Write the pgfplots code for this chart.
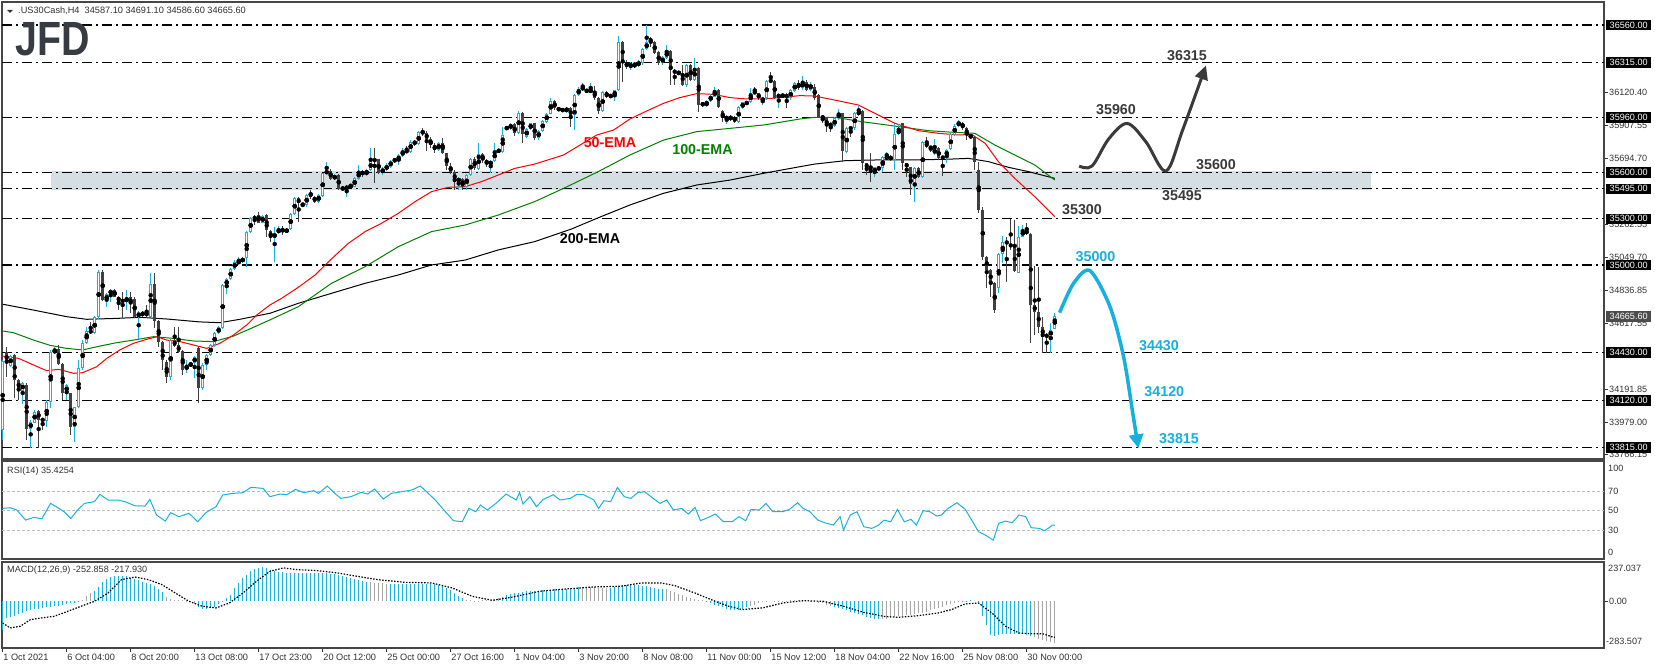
\documentclass[border=0pt]{standalone}
\usepackage{pgfplots}
\pgfplotsset{compat=1.18}
\usepackage{pgfplotstable}
\usepackage{graphicx}
\usepackage{fontspec}
\setmainfont{Liberation Sans}
\usetikzlibrary{arrows.meta}
\definecolor{cyanc}{RGB}{24,178,222}
\definecolor{darkc}{RGB}{64,64,64}
\definecolor{emared}{RGB}{255,0,0}
\definecolor{emagreen}{RGB}{0,128,0}
\definecolor{bandc}{RGB}{213,223,227}
\definecolor{framec}{RGB}{70,70,70}
\definecolor{labc}{RGB}{50,50,50}
\definecolor{annc}{RGB}{58,58,58}
\definecolor{annblue}{RGB}{20,176,222}
\definecolor{greybar}{RGB}{165,165,165}
\definecolor{levc}{RGB}{190,190,190}
\definecolor{logoc}{RGB}{55,60,66}

\pgfplotstableread{
x o h l c
0 33928 34385 33862 34378
2 34346 34415 34340 34408
5 34183 34240 34096 34231
7 33932 33990 33808 33982
8 33975 34055 33970 34047
11 33988 34120 33945 34112
12 34112 34445 34068 34437
13 34426 34470 34420 34452
16 34170 34225 34122 34220
18 33949 34080 33852 34075
19 34075 34382 34070 34328
20 34328 34512 34320 34491
21 34491 34599 34485 34571
23 34556 34670 34550 34660
24 34660 34965 34650 34957
26 34766 34820 34729 34811
27 34811 34845 34762 34837
31 34762 34837 34707 34790
34 34660 34700 34517 34692
37 34664 34946 34660 34874
42 34274 34520 34252 34512
46 34322 34382 34296 34344
47 34344 34370 34340 34361
48 34361 34410 34263 34404
50 34198 34360 34190 34350
51 34350 34420 34317 34415
52 34415 34485 34410 34478
53 34478 34565 34470 34556
54 34556 34605 34550 34595
55 34588 34875 34585 34870
56 34864 34915 34811 34909
57 34909 34980 34900 34974
58 34974 35030 34965 35022
59 35011 35050 35005 35026
60 35022 35050 35015 35043
61 35043 35220 34989 35212
62 35212 35310 35205 35303
65 35275 35325 35270 35318
68 35173 35250 35022 35210
69 35210 35253 35200 35232
71 35215 35240 35205 35232
72 35232 35340 35225 35331
73 35331 35440 35325 35433
76 35390 35460 35380 35455
79 35412 35460 35405 35455
80 35448 35600 35440 35596
81 35596 35672 35590 35611
83 35557 35590 35550 35585
86 35492 35520 35440 35513
87 35510 35525 35505 35515
88 35509 35570 35505 35563
89 35557 35650 35550 35611
91 35585 35625 35580 35617
92 35617 35758 35610 35676
95 35596 35640 35585 35628
96 35628 35660 35610 35639
97 35639 35685 35630 35676
99 35676 35720 35650 35715
100 35711 35760 35705 35741
102 35737 35810 35730 35802
104 35784 35870 35780 35862
109 35748 35800 35740 35791
114 35542 35570 35490 35563
116 35509 35590 35490 35585
117 35585 35695 35580 35687
119 35624 35790 35615 35719
122 35650 35685 35600 35676
123 35676 35795 35670 35741
125 35737 35900 35730 35845
127 35888 35920 35880 35914
129 35860 36000 35850 35990
131 35834 35890 35825 35882
132 35882 35925 35875 35921
134 35823 35880 35815 35871
135 35871 35945 35865 35936
136 35930 35990 35925 35984
137 35984 36083 35980 36066
141 36001 36025 35990 36018
143 35975 36110 35877 36105
144 36105 36160 36100 36144
145 36144 36181 36140 36153
147 36127 36181 36120 36137
150 36003 36130 35995 36122
153 36096 36140 36066 36135
154 36135 36490 36130 36447
157 36285 36320 36267 36311
159 36296 36330 36290 36322
160 36311 36410 36300 36404
161 36404 36560 36395 36447
165 36311 36360 36300 36354
166 36348 36430 36340 36391
169 36246 36260 36240 36250
171 36170 36305 36160 36300
173 36202 36343 36195 36278
176 36036 36070 36025 36066
177 36066 36110 36060 36101
178 36094 36159 36090 36135
181 35942 35975 35914 35968
184 35932 36035 35925 36029
185 36020 36062 36015 36057
187 36057 36153 36050 36116
190 36068 36090 36040 36083
191 36083 36200 36075 36196
194 36088 36115 36023 36109
197 36083 36145 36075 36137
198 36131 36190 36125 36181
200 36150 36230 36140 36190
202 36140 36190 36130 36175
208 35903 35960 35895 35953
209 35953 36012 35945 35986
211 35737 35895 35730 35888
213 35888 35995 35880 35986
214 35975 36040 35970 36003
218 35596 35640 35570 35635
220 35628 35710 35607 35704
221 35693 35737 35690 35704
223 35683 35914 35617 35849
224 35849 35914 35845 35884
228 35524 35635 35412 35628
230 35570 35805 35565 35797
233 35721 35817 35715 35758
236 35704 35755 35661 35748
237 35752 35855 35745 35849
238 35845 35915 35840 35906
239 35906 35942 35900 35927
242 35830 35850 35820 35845
249 34848 35075 34816 35069
250 35069 35188 35010 35152
254 34950 35253 34945 35184
255 35184 35260 35180 35228
262 34534 34620 34430 34580
263 34587 34691 34587 34666
}\bull

\pgfplotstableread{
x o h l c
1 34437 34469 34274 34361
3 34415 34420 34133 34252
4 34252 34260 34122 34188
6 34220 34230 33862 33932
9 34053 34060 33808 33992
10 33999 34005 33928 33988
14 34452 34480 34350 34354
15 34354 34360 34122 34170
17 34166 34170 33895 33949
22 34578 34632 34550 34556
25 34957 34967 34765 34772
28 34837 34842 34790 34794
29 34794 34800 34707 34762
30 34768 34827 34653 34766
32 34790 34827 34686 34746
33 34779 34790 34655 34660
35 34692 34700 34665 34675
36 34686 34740 34653 34675
38 34874 34946 34588 34636
39 34636 34640 34469 34502
40 34500 34505 34317 34382
41 34372 34380 34235 34274
43 34512 34599 34470 34474
44 34478 34599 34430 34437
45 34443 34450 34285 34317
49 34463 34470 34101 34198
63 35310 35325 35260 35303
64 35323 35344 35270 35275
66 35325 35330 35184 35228
67 35223 35230 35152 35173
70 35232 35255 35195 35220
74 35433 35440 35282 35401
75 35401 35405 35375 35386
77 35470 35490 35430 35444
78 35444 35450 35405 35412
82 35611 35625 35550 35557
84 35585 35590 35487 35492
85 35503 35510 35485 35492
90 35611 35620 35575 35585
93 35687 35758 35531 35676
94 35687 35690 35590 35596
98 35687 35695 35665 35676
101 35741 35775 35725 35737
103 35806 35815 35775 35784
105 35867 35888 35840 35856
106 35856 35870 35740 35819
107 35819 35830 35760 35780
108 35780 35795 35730 35748
110 35795 35823 35720 35726
111 35726 35730 35620 35643
112 35643 35660 35590 35607
113 35607 35620 35487 35542
115 35560 35565 35490 35509
118 35687 35700 35620 35630
120 35719 35725 35660 35683
121 35683 35690 35640 35656
124 35748 35755 35730 35737
126 35895 35900 35880 35884
128 35914 35920 35840 35856
130 35990 35995 35790 35849
133 35921 35925 35815 35823
138 36066 36070 36010 36018
139 36018 36025 36000 36008
140 36012 36020 35995 36001
142 36018 36025 35899 35964
146 36137 36145 36120 36127
148 36131 36166 36075 36083
149 36083 36090 35981 36003
151 36122 36130 36085 36094
152 36105 36110 36085 36094
155 36447 36455 36192 36322
156 36322 36330 36275 36285
158 36311 36315 36280 36296
162 36473 36484 36419 36447
163 36447 36455 36370 36376
164 36382 36390 36300 36311
167 36391 36395 36170 36267
168 36267 36275 36170 36246
170 36250 36300 36165 36170
172 36300 36305 36195 36202
174 36278 36285 35997 36040
175 36051 36060 36030 36040
179 36135 36144 36020 36029
180 36001 36005 35932 35953
182 35971 35975 35935 35942
183 35964 35970 35925 35932
186 36057 36065 36040 36050
188 36127 36159 36110 36116
189 36116 36120 36075 36083
192 36202 36257 36185 36192
193 36196 36200 36080 36088
195 36109 36115 36085 36094
196 36109 36115 36018 36083
199 36181 36200 36140 36150
201 36190 36200 36130 36140
203 36160 36175 36075 36083
204 36105 36110 35960 35964
205 35968 35975 35920 35953
206 35953 35960 35866 35903
207 35921 35925 35866 35903
210 35986 35990 35672 35741
212 35895 35900 35834 35884
215 36003 36010 35618 35661
216 35661 35665 35585 35628
217 35628 35726 35542 35596
219 35635 35640 35615 35622
222 35708 35715 35676 35683
225 35921 35925 35618 35661
226 35661 35665 35574 35635
227 35635 35640 35455 35524
229 35628 35635 35565 35570
231 35797 35834 35760 35769
232 35769 35775 35737 35758
234 35758 35765 35685 35693
235 35704 35710 35578 35693
240 35925 35930 35880 35888
241 35888 35895 35812 35845
243 35834 35840 35617 35672
244 35617 35672 35335 35358
245 35358 35380 35033 35054
246 35054 35060 34848 34967
247 34967 34975 34794 34880
248 34880 34890 34686 34707
251 35152 35185 34892 35141
252 35136 35297 35100 35119
253 35119 35292 34957 34960
256 35228 35270 35195 35201
257 35201 35210 34491 34740
258 34740 34994 34545 34697
259 34697 34990 34560 34600
260 34600 34665 34426 34534
261 34545 34560 34430 34534
}\bear

\tikzset{
  ann/.style={font=\fontsize{14.3}{16}\selectfont\bfseries, inner sep=0pt},
  pl/.style={font=\fontsize{9.1}{10}\selectfont, inner sep=0pt, text=labc},
  pbox/.style={fill=black, text=white, font=\fontsize{9.1}{10}\selectfont, inner xsep=3.5pt, inner ysep=0pt, minimum height=10.5pt, anchor=west, xshift=2pt},
}

\begin{document}
\begin{tikzpicture}[x=1pt,y=1pt]
\useasboundingbox (0,0) rectangle (1655,669);

% ---------------- main price panel ----------------
\begin{axis}[
  at={(2pt,210pt)}, anchor=south west, scale only axis,
  width=1602pt, height=457pt,
  xmin=-0.175, xmax=400.3, ymin=33739, ymax=36709.5,
  clip=false,
  axis line style={framec, line width=1.2pt},
  xtick=\empty,
  ytick={36120.40,35907.55,35694.70,35262.55,35049.70,34836.85,34617.55,34191.85,33979.00,33766.15},
  yticklabels={36120.40,35907.55,35694.70,35262.55,35049.70,34836.85,34617.55,34191.85,33979.00,33766.15},
  ytick pos=right, yticklabel pos=right, tick align=outside, major tick length=4pt,
  ytick style={labc, line width=0.8pt},
  yticklabel style={font=\fontsize{9.1}{10}\selectfont, text=labc, anchor=west, inner sep=0pt, xshift=1pt},
]
% support band
\fill[bandc] (axis cs:12.1,35488) rectangle (axis cs:342.1,35611);
% level lines
\pgfplotsinvokeforeach{36560,36315,35960,35600,35495,35300,35000,34430,34120,33815}{
  \addplot[black, line width=1.1pt, dash pattern=on 10pt off 4pt on 2pt off 4pt, forget plot] coordinates {(-0.175,#1) (400.3,#1)};
}
% EMA 200
\addplot[black, line width=1pt, forget plot] coordinates {
(0,34745) (7.7,34707) (16,34664) (21,34647) (28.5,34653) (34.3,34660) (41,34649) (49.3,34630) (54.3,34625) (59.3,34647) (66.8,34686)
(73.9,34751) (82.2,34816) (90.6,34881) (98.9,34935) (107.2,35000) (115.6,35032) (123.9,35098) (133,35152)
(142.2,35234) (148.5,35303) (156.8,35390) (165.2,35466) (173.5,35520) (181.8,35552) (190.2,35596) (199.3,35639)
(203,35656) (210.6,35678) (218.9,35683) (227.2,35683) (235.6,35687) (241.4,35693) (246.4,35672) (251.4,35635) (256.4,35607) (263,35563)};
% EMA 100
\addplot[emagreen, line width=1pt, forget plot] coordinates {
(0,34571) (2.7,34560) (7.7,34512) (11.8,34478) (16,34458) (20,34448) (24.3,34473) (28.5,34495) (32.7,34512) (37.7,34534) (42.7,34523) (47.7,34506) (52.7,34502) (57.7,34538) (62.7,34595) (66.8,34643)
(73.9,34729) (82.2,34881) (90.6,34989) (98.9,35119) (107.2,35217) (115.6,35260) (123.9,35325) (133,35412)
(140.2,35498) (148.5,35602) (156.8,35715) (165.2,35812) (173.5,35867) (181.8,35888) (190.2,35910) (199.3,35949)
(203,35960) (208,35960) (214.7,35932) (223,35903) (231.4,35873) (238,35862) (243,35856) (248,35780) (253,35715) (258,35650) (263,35552)};
% EMA 50
\addplot[emared, line width=1pt, forget plot] coordinates {
(0,34408) (4,34393) (7.7,34350) (11,34313) (14,34322) (17.7,34296) (20,34300) (23.5,34339) (26,34393) (29.3,34448) (32.7,34491) (36,34517) (38.5,34534) (41,34512) (44.3,34502) (47.7,34480) (51,34458) (54.3,34491) (57.7,34545) (61,34610) (63.5,34675) (66.8,34740)
(69.7,34783) (73.9,34855) (78.1,34935) (82.2,35040) (86.4,35141) (90.6,35217) (94.7,35271) (98.9,35336) (103.1,35412) (107.2,35477) (111.4,35505) (115.6,35509) (119.7,35542) (123.9,35585) (128,35628) (133,35656)
(140.2,35715) (148.5,35845) (152.7,35877) (156.8,35949) (161,36001) (165.2,36051) (169.3,36088) (173.5,36114) (177.7,36109) (181.8,36088) (186,36079) (190.2,36079) (194.3,36088) (199.3,36101)
(203,36098) (208,36072) (213.9,36040) (218,35986) (223,35921) (228.9,35873) (233.9,35856) (238.9,35845) (242.2,35849) (245.6,35791) (248.9,35672) (253,35563) (258,35444) (263,35314)};
% candles: wicks
\addplot[only marks, mark=none, forget plot,
  error bars/.cd, y dir=both, y explicit, error mark=none,
  error bar style={line width=1pt, draw=cyanc}]
  table[x=x, y expr={(\thisrow{h}+\thisrow{l})/2}, y error expr={(\thisrow{h}-\thisrow{l})/2}] {\bull};
\addplot[only marks, mark=none, forget plot,
  error bars/.cd, y dir=both, y explicit, error mark=none,
  error bar style={line width=1pt, draw=darkc}]
  table[x=x, y expr={(\thisrow{h}+\thisrow{l})/2}, y error expr={(\thisrow{h}-\thisrow{l})/2}] {\bear};
% bodies
\addplot[only marks, mark=none, forget plot,
  error bars/.cd, y dir=both, y explicit, error mark=none,
  error bar style={line width=3.2pt, draw=cyanc}]
  table[x=x, y expr={(\thisrow{o}+\thisrow{c})/2}, y error expr={max(abs(\thisrow{c}-\thisrow{o})/2,3.5)}] {\bull};
\addplot[only marks, mark=none, forget plot,
  error bars/.cd, y dir=both, y explicit, error mark=none,
  error bar style={line width=1.2pt, draw=white}]
  table[x=x, y expr={(\thisrow{o}+\thisrow{c})/2}, y error expr={max(abs(\thisrow{c}-\thisrow{o})/2-6.5,0)}] {\bull};
\addplot[only marks, mark=none, forget plot,
  error bars/.cd, y dir=both, y explicit, error mark=none,
  error bar style={line width=3.2pt, draw=darkc}]
  table[x=x, y expr={(\thisrow{o}+\thisrow{c})/2}, y error expr={max(abs(\thisrow{c}-\thisrow{o})/2,3.5)}] {\bear};
% scenario arrows
\addplot[annc, line width=3pt, smooth, tension=0.55, -{Triangle[length=14pt,width=13pt]}, forget plot] coordinates {
(269.1,35643) (272.3,35643) (276.5,35820) (281.1,35920) (285.8,35800) (290.8,35611) (295,35880) (300.8,36297)};
\addplot[annblue, line width=3.5pt, smooth, tension=0.5, -{Triangle[length=14pt,width=14pt]}, forget plot] coordinates {
(264.2,34690) (267.7,34881) (271.8,34963) (276.8,34729) (280.2,34404) (282.5,34036) (283.9,33808)};
% coordinates for boxed price labels
\coordinate (b1) at (axis cs:400.3,36560);
\coordinate (b2) at (axis cs:400.3,36315);
\coordinate (b3) at (axis cs:400.3,35960);
\coordinate (b4) at (axis cs:400.3,35600);
\coordinate (b5) at (axis cs:400.3,35495);
\coordinate (b6) at (axis cs:400.3,35300);
\coordinate (b7) at (axis cs:400.3,35000);
\coordinate (b8) at (axis cs:400.3,34665.6);
\coordinate (b9) at (axis cs:400.3,34430);
\coordinate (b10) at (axis cs:400.3,34120);
\coordinate (b11) at (axis cs:400.3,33815);
\end{axis}

% boxed labels on top of tick labels
\node[pbox] at (b1) {36560.00};
\node[pbox] at (b2) {36315.00};
\node[pbox] at (b3) {35960.00};
\node[pbox] at (b4) {35600.00};
\node[pbox] at (b5) {35495.00};
\node[pbox] at (b6) {35300.00};
\node[pbox] at (b7) {35000.00};
\node[pbox, fill=black!70] at (b8) {34665.60};
\node[pbox] at (b9) {34430.00};
\node[pbox] at (b10) {34120.00};
\node[pbox] at (b11) {33815.00};

% ---------------- RSI panel ----------------
\begin{axis}[
  at={(2pt,110pt)}, anchor=south west, scale only axis,
  width=1602pt, height=98pt,
  xmin=-0.175, xmax=400.3, ymin=0.6, ymax=101.1,
  axis line style={framec, line width=1.2pt},
  xtick=\empty, ytick=\empty,
]
\pgfplotsinvokeforeach{70,50,30}{
  \addplot[levc, line width=0.9pt, dash pattern=on 3pt off 2pt, forget plot] coordinates {(-0.175,#1) (400.3,#1)};
}
\addplot[cyanc, line width=1pt, forget plot] coordinates {
(0,52.5) (1.86,53.2) (3.54,50.8) (5.74,40.5) (7.76,43.3) (9.78,41.9) (11.98,57.6) (13.66,53.5) (15.35,49.1) (17.04,42.2) (18.72,50.8) (20.41,57.6) (22.94,59.4) (24.29,66.9) (26.32,61.1) (28.85,61.1) (30.53,59.4) (33.06,55.2) (35.59,54.9) (36.78,61.7) (38.46,45.7) (40.65,39.5) (42.0,48.1) (44.03,44.0) (46.56,47.4) (48.75,38.8) (50.78,48.1) (53.31,54.2) (54.99,66.2) (57.52,67.9) (60.05,68.6) (62.08,74.1) (65.11,73.0) (66.8,64.5) (69.33,67.2) (71.02,66.5) (73.21,72.0) (75.24,68.6) (77.77,70.6) (78.95,67.9) (81.14,75.4) (82.83,68.6) (84.51,62.8) (87.05,64.5) (89.57,68.9) (91.26,67.2) (92.95,72.4) (95.14,62.1) (97.17,67.9) (99.7,69.6) (102.23,71.3) (104.42,75.4) (105.94,69.6) (108.13,61.1) (110.66,49.1) (112.69,39.9) (114.88,38.8) (116.56,52.5) (118.25,49.1) (119.43,55.9) (121.12,50.8) (123.31,57.6) (125.84,67.2) (128.37,61.1) (129.22,68.9) (130.06,56.9) (131.75,64.5) (133.44,54.2) (135.12,61.7) (137.65,66.5) (139.34,61.1) (141.87,62.8) (143.56,66.9) (145.24,66.5) (147.77,61.1) (148.95,52.5) (150.3,60.4) (151.99,59.4) (153.68,74.1) (155.36,64.5) (157.05,62.8) (158.74,68.6) (160.43,69.6) (162.96,61.7) (164.31,57.6) (165.99,61.1) (167.68,50.8) (169.7,52.5) (171.39,46.7) (173.08,53.5) (174.43,39.9) (176.45,43.3) (178.14,46.7) (180.17,38.8) (182.36,38.8) (184.04,44.0) (185.73,39.9) (187.08,51.5) (189.1,50.8) (190.79,57.6) (192.48,49.1) (195.01,49.1) (196.7,51.5) (198.72,58.3) (200.07,52.5) (201.76,49.1) (203.78,40.5) (205.47,37.8) (207.66,35.4) (209.34,44.0) (210.19,30.3) (211.88,45.7) (213.56,49.1) (215.25,33.7) (217.27,32.0) (218.96,35.4) (220.31,40.5) (222.0,38.8) (223.68,51.5) (225.37,38.8) (227.06,41.2) (228.41,35.4) (230.09,50.1) (231.78,49.1) (233.47,44.6) (234.65,45.7) (236.33,52.5) (238.53,58.3) (240.55,51.8) (242.24,40.5) (243.93,28.6) (245.61,25.2) (247.64,20.0) (248.99,37.1) (250.67,39.5) (252.36,37.8) (254.05,45.7) (255.74,44.0) (257.09,32.7) (259.11,32.0) (260.46,29.6) (262.48,35.4) (263,35.4)};
\end{axis}

% ---------------- MACD panel ----------------
\begin{axis}[
  at={(2pt,21pt)}, anchor=south west, scale only axis,
  width=1602pt, height=86pt,
  xmin=-0.175, xmax=400.3, ymin=-283.507, ymax=237.037,
  axis line style={framec, line width=1.2pt},
  xtick={0,16,...,256},
  xticklabels={1 Oct 2021,6 Oct 04:00,8 Oct 20:00,13 Oct 08:00,17 Oct 23:00,20 Oct 12:00,25 Oct 00:00,27 Oct 16:00,1 Nov 04:00,3 Nov 20:00,8 Nov 08:00,11 Nov 00:00,15 Nov 12:00,18 Nov 04:00,22 Nov 16:00,25 Nov 08:00,30 Nov 00:00},
  xtick pos=bottom, tick align=outside, major tick length=4pt,
  xtick style={labc, line width=0.8pt},
  xticklabel style={font=\fontsize{9.2}{10}\selectfont, text=labc, anchor=north west, inner sep=0pt, xshift=0.5pt, yshift=-2pt},
  ytick={0}, yticklabels={0.00}, ytick pos=right, yticklabel pos=right,
  ytick style={labc, line width=0.8pt},
  yticklabel style={font=\fontsize{9.1}{10}\selectfont, text=labc, anchor=west, inner sep=0pt, xshift=1pt},
]
\addplot[ycomb, cyanc, line width=1pt, mark=none, forget plot] coordinates {
(0,-177) (1,-102) (2,-95) (3,-89) (4,-79) (5,-70) (6,-62) (7,-56) (8,-50) (9,-47) (10,-43) (11,-38) (12,-34) (13,-30) (14,-27) (15,-23) (16,-18) (17,-14) (18,-10) (19,-4)
(23,60) (24,85) (25,113) (26,133) (27,146) (28,154) (29,155) (30,155) (31,152) (32,143) (33,134) (34,126) (35,118) (36,110) (37,102) (38,92) (39,75) (40,57)
(49,-35) (50,-47) (51,-46) (52,-42) (53,-34) (54,-18) (55,-1) (56,18) (57,40) (58,78) (59,110) (60,140) (61,160) (62,180) (63,196) (64,203) (65,207) (66,200) (67,190) (68,184) (69,179) (70,176) (71,173) (72,171) (73,171) (74,171) (75,171) (76,171) (77,171) (78,171) (79,171) (80,171) (81,169) (82,166) (83,162) (84,158) (85,152) (86,146) (87,140) (88,134) (89,128) (90,122) (91,118)
(97,104) (98,104) (99,104) (100,104) (101,105) (102,106) (103,106) (104,106) (105,106) (106,106) (107,106) (108,104) (109,100) (110,92) (111,82) (112,70) (113,52) (114,29) (115,17)
(125,26) (126,35) (127,42) (128,47) (129,52) (130,56) (131,60) (132,63) (133,64) (134,64) (135,67) (136,70) (137,70) (138,71) (139,73) (140,74) (141,74) (142,77) (143,81) (144,83)
(152,82) (153,85) (154,91) (155,95) (156,98) (157,99) (158,100) (159,96) (160,93) (161,91) (162,86) (163,80) (164,76) (165,73)
(176,-3) (177,-13) (178,-25) (179,-32) (180,-38) (181,-47) (182,-52) (183,-55) (184,-52) (185,-46) (186,-36)
(208,-34) (209,-41) (210,-50) (211,-56) (212,-63) (213,-69) (214,-77) (215,-86) (216,-95) (217,-102) (218,-106) (219,-108)
(240,-2) (241,1) (242,4) (243,0) (244,-7) (245,-90) (246,-145) (247,-205) (248,-210) (249,-203) (250,-199) (251,-197) (252,-197) (253,-197) (254,-197) (255,-200) (256,-204) (257,-210)};
\addplot[ycomb, greybar, line width=1pt, mark=none, forget plot] coordinates {
(20,8) (21,30) (22,48) (41,25) (42,12) (43,9) (44,7) (45,5) (46,2) (47,-8) (48,-19)
(92,115) (93,112) (94,110) (95,107) (96,105)
(116,8) (117,4) (118,3) (119,3) (120,4) (121,5) (122,8) (123,12) (124,18)
(145,85) (146,86) (147,85) (148,84) (149,81) (150,80) (151,80)
(166,71) (167,64) (168,55) (169,45) (170,36) (171,28) (172,18) (173,13) (174,8) (175,4)
(187,-28) (188,-22) (189,-14) (190,-7) (191,-3) (192,0) (193,2) (194,1) (195,-1) (196,1) (197,4) (198,5) (199,4) (200,3) (201,0) (202,-2) (203,-5) (204,-9) (205,-14) (206,-21) (207,-28)
(220,-108) (221,-106) (222,-102) (223,-96) (224,-91) (225,-89) (226,-86) (227,-82) (228,-78) (229,-74) (230,-70) (231,-63) (232,-53) (233,-46) (234,-40) (235,-34) (236,-26) (237,-17) (238,-11) (239,-6)
(258,-218) (259,-231) (260,-238) (261,-244) (262,-250) (263,-253)};
\addplot[black, line width=1.2pt, dash pattern=on 1.5pt off 1.5pt, forget plot] coordinates {
(0,-132) (1.86,-162) (4.39,-152) (6.92,-112) (9.45,-102) (12.82,-92) (16.19,-62) (19.57,-31) (22.94,-1) (26.32,49) (29.69,130) (33.06,146) (36.44,130) (39.81,100) (43.18,49) (46.56,-1) (49.93,-31) (53.31,-41) (56.68,-11) (60.05,49) (63.43,120) (66.8,181) (70.18,201) (73.55,191) (78.61,185) (83.67,171) (88.73,150) (93.79,130) (100.54,114) (107.29,110) (112.35,80) (117.41,29) (122.47,5) (127.53,25) (134.28,60) (141.03,74) (147.77,86) (154.52,90) (159.58,110) (164.64,110) (168.02,94) (173.08,49) (178.14,-1) (181.51,-31) (184.89,-51) (189.95,-41) (195.01,-11) (200.07,3) (205.13,-1) (210.19,-31) (215.25,-68) (220.31,-92) (223.68,-98) (228.75,-88) (233.81,-72) (237.18,-51) (240.55,-17) (243.93,-11) (247.3,-72) (250.67,-152) (254.05,-193) (257.42,-197) (259.95,-197) (262.48,-217) (263,-218)};
\end{axis}

% ---------------- texts ----------------
\fill[labc] (7,659) -- (13,659) -- (10,656) -- cycle;
\node[pl, anchor=west, font=\fontsize{9.2}{10}\selectfont] at (18,658.3) {.US30Cash,H4\ \ 34587.10 34691.10 34586.60 34665.60};
\node[anchor=west, inner sep=0pt, text=logoc] at (15,629.5) {\scalebox{0.82}[1]{\fontsize{48}{48}\selectfont\bfseries JFD}};

\node[pl, anchor=west] at (7,198.3) {RSI(14) 35.4254};
\node[pl, anchor=west] at (7,99) {MACD(12,26,9) -252.858 -217.930};

\node[pl, anchor=west] at (1608,201) {100};
\node[pl, anchor=west] at (1608,177.7) {70};
\node[pl, anchor=west] at (1608,158.7) {50};
\node[pl, anchor=west] at (1608,138.7) {30};
\node[pl, anchor=west] at (1608,117) {0};
\node[pl, anchor=west] at (1608,101) {237.037};
\node[pl, anchor=west] at (1606,27.3) {-283.507};

\node[ann, text=emared] at (610,526) {50-EMA};
\node[ann, text=emagreen] at (702.5,519) {100-EMA};
\node[ann, text=black] at (590,430.5) {200-EMA};
\node[ann, text=annc] at (1187,613) {36315};
\node[ann, text=annc] at (1116,559) {35960};
\node[ann, text=annc] at (1216,504) {35600};
\node[ann, text=annc] at (1182,473) {35495};
\node[ann, text=annc] at (1082,459) {35300};
\node[ann, text=annblue] at (1095.5,412) {35000};
\node[ann, text=annblue] at (1159,323) {34430};
\node[ann, text=annblue] at (1164.3,277) {34120};
\node[ann, text=annblue] at (1179,230) {33815};
\end{tikzpicture}
\end{document}
